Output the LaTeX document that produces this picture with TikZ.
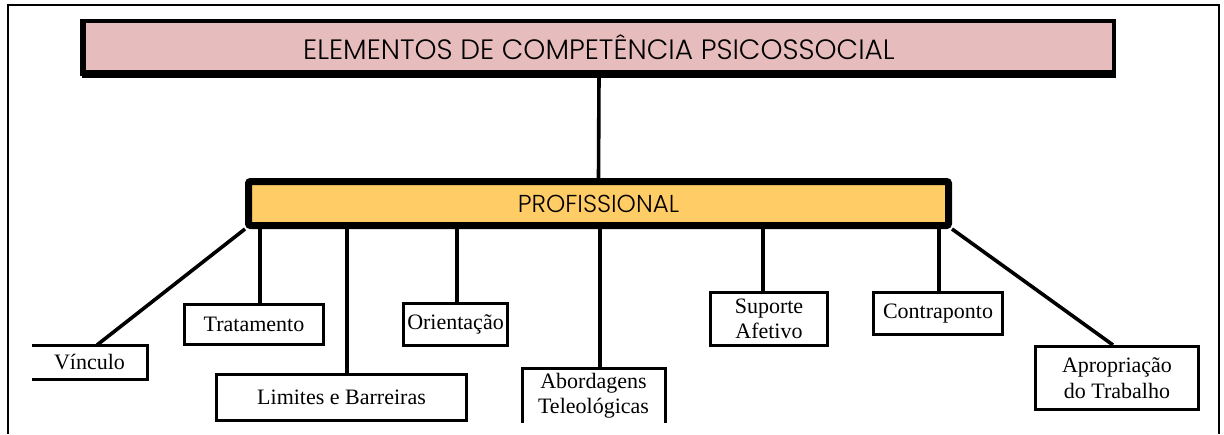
\documentclass[tikz,border=0pt]{standalone}
\usepackage{fontspec}
\setmainfont{Liberation Serif}
\newfontfamily\gothic{Poppins Light}
\definecolor{pinkfill}{RGB}{231,188,188}
\definecolor{orangefill}{RGB}{255,204,102}
\begin{document}
\begin{tikzpicture}[x=1pt,y=-1pt,
  leaf/.style={line width=3pt, fill=white, inner sep=0pt, align=center,
    font=\fontsize{22}{25.5}\selectfont, text=black},
  leafbox/.style={leaf, draw},
  conn/.style={line width=3.6pt},
  edge3/.style={line width=3pt}]
\useasboundingbox (0,0) rectangle (1224,434);
% outer frame
\draw[line width=2.5pt] (8,434) -- (8,5) -- (1219,5) -- (1219,434);
% top box
\node[draw, line width=4pt, fill=pinkfill, minimum width=1030pt, minimum height=53pt,
  inner sep=0pt, font=\gothic\fontsize{28}{30}\selectfont] (top) at (599,47.5)
  {ELEMENTOS DE COMPETÊNCIA PSICOSSOCIAL};
\draw[line width=6pt] ([xshift=1pt]top.north west) -- ([xshift=1pt]top.south west);
\draw[line width=8pt] ([yshift=2pt]top.south west) -- ([yshift=2pt]top.south east);
% profissional
\node[draw, line width=7pt, rounded corners=2pt, fill=orangefill, minimum width=700pt,
  minimum height=44pt, inner sep=0pt, font=\gothic\fontsize{24.5}{26}\selectfont] (prof)
  at (598.5,203.5) {PROFISSIONAL};
% leaves
\node[leaf, minimum width=112pt, minimum height=31pt] (vin) at (89.5,362) {Vínculo};
\draw[edge3] (vin.north west) -- (vin.north east) -- (vin.south east) -- (vin.south west);
\node[leafbox, minimum width=139pt, minimum height=40pt] (trat) at (254,324.5) {Tratamento};
\node[leafbox, minimum width=250pt, minimum height=46pt] (lim) at (341.5,397.5) {Limites e Barreiras};
\node[leafbox, minimum width=104pt, minimum height=42pt] (ori) at (455.5,324.5) {Orientação};
\node[leaf, minimum width=140pt, minimum height=52pt] (abo) at (593.5,395.5) {Abordagens\\Teleológicas};
\draw[edge3] (abo.south west) -- (abo.north west) -- (abo.north east) -- (abo.south east);
\node[leafbox, minimum width=117pt, minimum height=53pt] (sup) at (769,319) {Suporte\\Afetivo};
\node[leafbox, minimum width=129pt, minimum height=42pt] (con) at (938,313.5) {Contraponto};
\node[leafbox, minimum width=163pt, minimum height=63pt] (apr) at (1117,378) {Apropriação\\do Trabalho};
% connectors
\draw[conn] (top.south) -- (prof.north);
\draw[conn] (prof.south west) -- ([xshift=7.5pt]vin.north);
\draw[conn] ([xshift=6pt]trat.north) -- ([xshift=6pt]trat.north |- prof.south);
\draw[conn] ([xshift=5.5pt]lim.north) -- ([xshift=5.5pt]lim.north |- prof.south);
\draw[conn] ([xshift=1.5pt]ori.north) -- ([xshift=1.5pt]ori.north |- prof.south);
\draw[conn] ([xshift=6.5pt]abo.north) -- ([xshift=6.5pt]abo.north |- prof.south);
\draw[conn] ([xshift=-6pt]sup.north) -- ([xshift=-6pt]sup.north |- prof.south);
\draw[conn] ([xshift=1pt]con.north) -- ([xshift=1pt]con.north |- prof.south);
\draw[conn] (prof.south east) -- ([xshift=-4pt]apr.north);
\end{tikzpicture}
\end{document}
